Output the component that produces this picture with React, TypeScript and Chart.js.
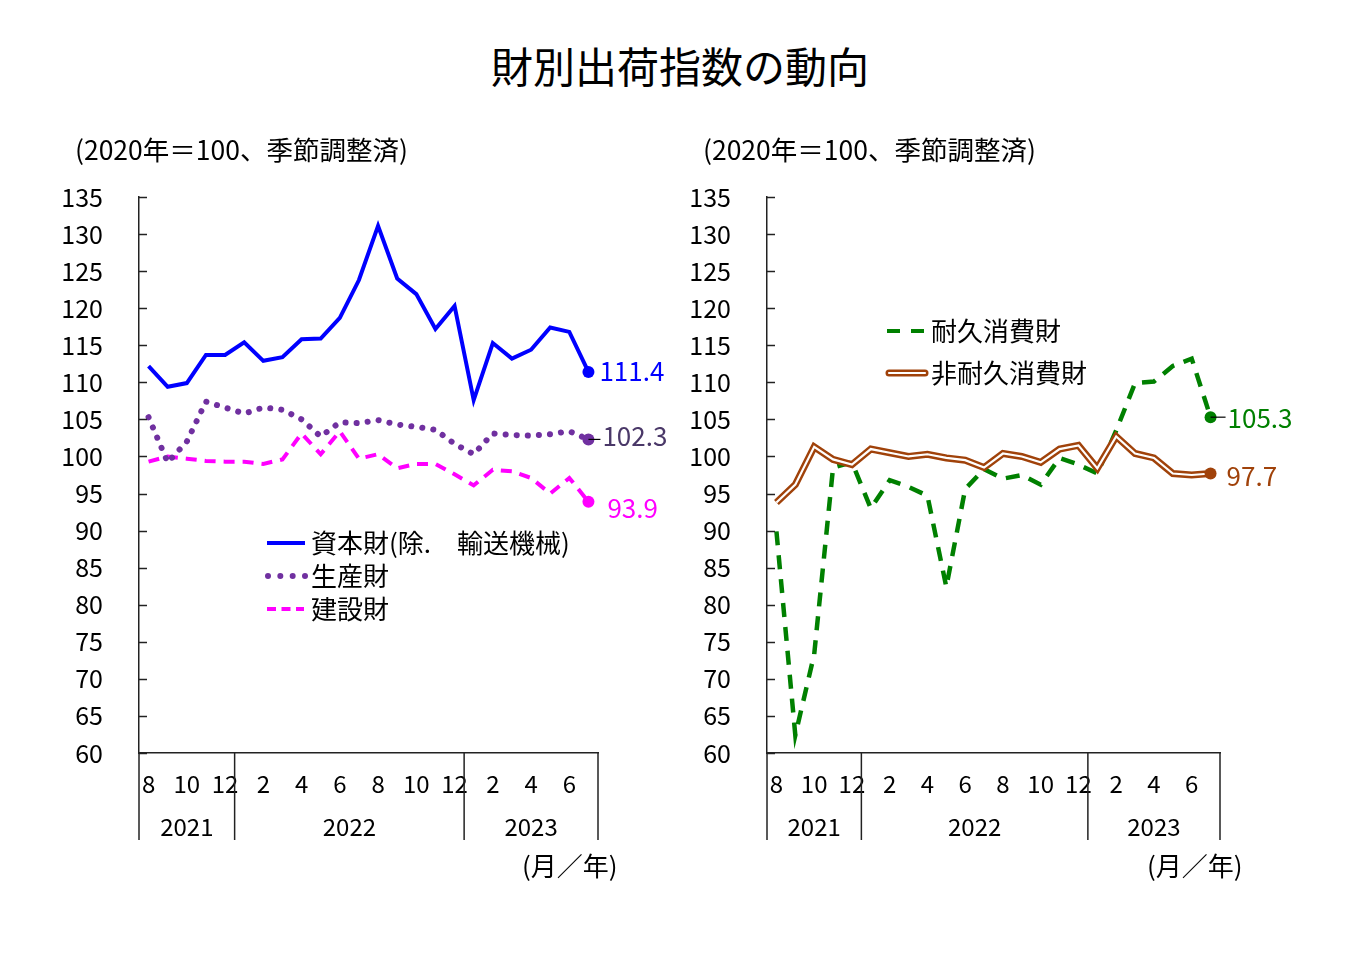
import React, { useEffect, useRef } from 'react';
import { Chart, registerables } from 'chart.js';

Chart.register(...registerables);

const FONT = '"Noto Sans CJK JP", "Noto Sans", sans-serif';
const AXIS = '#222222';

// ---- data ----
const categories = [
  '2021/8', '2021/9', '2021/10', '2021/11', '2021/12',
  '2022/1', '2022/2', '2022/3', '2022/4', '2022/5', '2022/6', '2022/7', '2022/8', '2022/9', '2022/10', '2022/11', '2022/12',
  '2023/1', '2023/2', '2023/3', '2023/4', '2023/5', '2023/6', '2023/7',
];
const monthTickLabels = [
  '8', '', '10', '', '12',
  '', '2', '', '4', '', '6', '', '8', '', '10', '', '12',
  '', '2', '', '4', '', '6', '',
];
const yearLabels = ['2021', '2022', '2023'];
const yearFirstIndex = [0, 5, 17];

const capitalGoods = [112.2, 109.4, 109.9, 113.7, 113.7, 115.4, 112.9, 113.4, 115.8, 115.9, 118.7, 123.8, 131.1, 124.0, 121.9, 117.2, 120.3, 107.6, 115.3, 113.2, 114.4, 117.4, 116.8, 111.4];
const producerGoods = [105.3, 99.2, 102.0, 107.4, 106.6, 105.8, 106.6, 106.3, 105.0, 102.7, 104.6, 104.5, 104.9, 104.3, 104.0, 103.6, 101.7, 100.3, 103.1, 102.9, 102.8, 103.0, 103.4, 102.3];
const constructionGoods = [99.3, 100.0, 99.7, 99.4, 99.3, 99.3, 99.0, 99.6, 103.1, 100.3, 103.4, 99.7, 100.3, 98.4, 99.0, 99.0, 97.6, 96.1, 98.2, 98.0, 97.1, 95.0, 97.1, 93.9];
const durableGoods = [89.9, 62.4, 73.3, 98.5, 99.2, 93.0, 96.8, 95.9, 94.7, 82.4, 95.6, 98.3, 97.0, 97.5, 96.2, 99.8, 98.9, 97.7, 103.5, 109.9, 110.1, 112.2, 113.2, 105.3];
const nondurableGoods = [93.8, 96.2, 101.3, 99.6, 98.9, 101.0, 100.5, 100.0, 100.3, 99.8, 99.5, 98.5, 100.4, 100.0, 99.2, 101.0, 101.5, 98.4, 102.7, 100.4, 99.8, 97.7, 97.5, 97.7];

const yMin = 60;
const yMax = 135;
const yStep = 5;

const TITLE = '財別出荷指数の動向';
const SUBTITLE = '(2020年＝100、季節調整済)';
const UNIT = '(月／年)';

const BLUE = '#0000ff';
const PURPLE = '#7030a0';
const PURPLE_LABEL = '#4a3868';
const MAGENTA = '#ff00ff';
const GREEN = '#008000';
const BROWN = '#a0420a';

const lastIdx = categories.length - 1;
const endRadius = (r: number) => (c: any) => (c.dataIndex === lastIdx ? r : 0);

function line(ctx: CanvasRenderingContext2D, x1: number, y1: number, x2: number, y2: number) {
  ctx.beginPath();
  ctx.moveTo(x1, y1);
  ctx.lineTo(x2, y2);
  ctx.stroke();
}

const panelPlugin = {
  id: 'panel',
  afterDraw(chart: any, _args: any, opts: any) {
    const { ctx, chartArea, scales } = chart;
    const xs = scales.x;
    const ys = scales.y;
    const ox = opts.offsetX;
    ctx.save();
    ctx.strokeStyle = AXIS;
    ctx.lineWidth = 1.5;
    // inward y ticks
    ys.ticks.forEach((_t: any, i: number) => {
      const py = Math.round(ys.getPixelForTick(i)) + 0.5;
      line(ctx, chartArea.left, py, chartArea.left + 8, py);
    });
    // year separators
    const step = xs.getPixelForValue(1) - xs.getPixelForValue(0);
    const bounds = yearFirstIndex.map((fi, i) => (i === 0 ? chartArea.left : xs.getPixelForValue(fi) - step / 2));
    bounds.push(chartArea.right);
    bounds.forEach((bx: number) => line(ctx, bx, chartArea.bottom, bx, chartArea.bottom + 87));
    ctx.fillStyle = '#000';
    ctx.font = `24px ${FONT}`;
    ctx.textAlign = 'center';
    ctx.textBaseline = 'middle';
    yearLabels.forEach((lab, i) => {
      ctx.fillText(lab, (bounds[i] + bounds[i + 1]) / 2, chartArea.bottom + 74);
    });
    // unit
    ctx.font = `26px ${FONT}`;
    ctx.textAlign = 'left';
    ctx.fillText(UNIT, opts.unit.x - ox, opts.unit.y);
    // subtitle
    ctx.font = `26.5px ${FONT}`;
    ctx.fillText(SUBTITLE, opts.subtitle.x - ox, opts.subtitle.y);
    // legend
    opts.legend.forEach((it: any) => {
      const x1 = it.x1 - ox;
      const x2 = it.x2 - ox;
      ctx.save();
      ctx.strokeStyle = it.color;
      ctx.fillStyle = it.color;
      if (it.type === 'solid') {
        ctx.lineWidth = 4;
        line(ctx, x1, it.y, x2, it.y);
      } else if (it.type === 'dots') {
        for (let k = 0; k < 4; k++) {
          ctx.beginPath();
          ctx.arc(x1 + k * ((x2 - x1) / 3), it.y, 3, 0, Math.PI * 2);
          ctx.fill();
        }
      } else if (it.type === 'dash') {
        ctx.lineWidth = 4;
        ctx.setLineDash(it.dash);
        line(ctx, x1, it.y, x2, it.y);
      } else if (it.type === 'double') {
        ctx.lineCap = 'round';
        ctx.lineWidth = 7;
        line(ctx, x1, it.y, x2, it.y);
        ctx.strokeStyle = '#fff';
        ctx.lineWidth = 2.2;
        line(ctx, x1, it.y, x2, it.y);
      }
      ctx.restore();
      ctx.fillStyle = '#000';
      ctx.font = `26px ${FONT}`;
      ctx.textAlign = 'left';
      ctx.textBaseline = 'middle';
      ctx.fillText(it.text, it.tx - ox, it.y);
    });
    // end value labels
    opts.values.forEach((v: any) => {
      const meta = chart.getDatasetMeta(v.dataset);
      const pt = meta.data[lastIdx];
      const val = chart.data.datasets[v.dataset].data[lastIdx];
      if (v.leader) {
        ctx.strokeStyle = '#000';
        ctx.lineWidth = 1.2;
        line(ctx, pt.x, pt.y, pt.x + v.dx - 2, pt.y);
      }
      ctx.fillStyle = v.color;
      ctx.font = `26px ${FONT}`;
      ctx.textAlign = 'left';
      ctx.textBaseline = 'middle';
      ctx.fillText(val.toFixed(1), pt.x + v.dx, pt.y + v.dy);
    });
    ctx.restore();
  },
};

function makeOptions(padLeft: number, padRight: number, panel: any): any {
  return {
    responsive: false,
    animation: false,
    events: [],
    layout: { padding: { left: padLeft, right: padRight, top: 197, bottom: 159 } },
    plugins: {
      legend: { display: false },
      tooltip: { enabled: false },
      title: { display: false },
      panel,
    },
    elements: { line: { tension: 0 } },
    scales: {
      x: {
        type: 'category',
        offset: true,
        grid: { display: false, drawTicks: false },
        border: { display: true, color: AXIS, width: 1.5 },
        afterFit: (s: any) => { s.height = 50; },
        ticks: {
          autoSkip: false,
          maxRotation: 0,
          minRotation: 0,
          padding: 16,
          color: '#000',
          font: { family: FONT, size: 24 },
          callback: (_v: any, i: number) => monthTickLabels[i],
        },
      },
      y: {
        min: yMin,
        max: yMax,
        grid: { display: false, drawTicks: false },
        border: { display: true, color: AXIS, width: 1.5 },
        afterFit: (s: any) => { s.width = 80; },
        ticks: {
          stepSize: yStep,
          padding: 36,
          color: '#000',
          font: { family: FONT, size: 25 },
        },
      },
    },
  };
}

function leftConfig(): any {
  return {
    type: 'line',
    data: {
      labels: categories,
      datasets: [
        {
          label: '資本財(除.　輸送機械)', data: capitalGoods, borderColor: BLUE, backgroundColor: BLUE,
          borderWidth: 4, pointRadius: endRadius(6), pointBorderWidth: 0, pointBackgroundColor: BLUE, order: 1,
        },
        {
          label: '生産財', data: producerGoods, borderColor: PURPLE, backgroundColor: PURPLE,
          borderWidth: 6, borderDash: [0.1, 11], borderCapStyle: 'round',
          pointRadius: endRadius(6), pointBorderWidth: 0, pointBackgroundColor: PURPLE, order: 2,
        },
        {
          label: '建設財', data: constructionGoods, borderColor: MAGENTA, backgroundColor: MAGENTA,
          borderWidth: 4, borderDash: [11, 8],
          pointRadius: endRadius(6), pointBorderWidth: 0, pointBackgroundColor: MAGENTA, order: 3,
        },
      ],
    },
    options: makeOptions(59, 82, {
      offsetX: 0,
      subtitle: { x: 75, y: 150 },
      unit: { x: 522, y: 866 },
      legend: [
        { type: 'solid', color: BLUE, x1: 267, x2: 305, y: 543, tx: 311, text: '資本財(除.　輸送機械)' },
        { type: 'dots', color: PURPLE, x1: 268, x2: 305, y: 576, tx: 311, text: '生産財' },
        { type: 'dash', color: MAGENTA, dash: [9, 5.5], x1: 267, x2: 304, y: 609, tx: 311, text: '建設財' },
      ],
      values: [
        { dataset: 0, dx: 11, dy: -1, color: BLUE, leader: false },
        { dataset: 1, dx: 14, dy: -3, color: PURPLE_LABEL, leader: true },
        { dataset: 2, dx: 19, dy: 6, color: MAGENTA, leader: false },
      ],
    }),
    plugins: [panelPlugin],
  };
}

function rightConfig(): any {
  return {
    type: 'line',
    data: {
      labels: categories,
      datasets: [
        {
          label: '耐久消費財', data: durableGoods, borderColor: GREEN, backgroundColor: GREEN,
          borderWidth: 4.5, borderDash: [14, 10],
          pointRadius: endRadius(6), pointBorderWidth: 0, pointBackgroundColor: GREEN, order: 3,
        },
        {
          label: '非耐久消費財', data: nondurableGoods, borderColor: BROWN, backgroundColor: BROWN,
          borderWidth: 7, pointRadius: 0, order: 2,
        },
        {
          label: '非耐久消費財', data: nondurableGoods, borderColor: '#ffffff', backgroundColor: BROWN,
          borderWidth: 2.2, pointRadius: endRadius(6), pointBorderWidth: 0, pointBackgroundColor: BROWN, order: 1,
        },
      ],
    },
    options: makeOptions(7, 140, {
      offsetX: 680,
      subtitle: { x: 703, y: 150 },
      unit: { x: 1147, y: 866 },
      legend: [
        { type: 'dash', color: GREEN, dash: [13, 11], x1: 887, x2: 925, y: 331, tx: 931, text: '耐久消費財' },
        { type: 'double', color: BROWN, x1: 889, x2: 925, y: 373, tx: 931, text: '非耐久消費財' },
      ],
      values: [
        { dataset: 0, dx: 17, dy: 1, color: GREEN, leader: true },
        { dataset: 2, dx: 16, dy: 3, color: BROWN, leader: false },
      ],
    }),
    plugins: [panelPlugin],
  };
}

export default function App() {
  const leftRef = useRef<HTMLCanvasElement>(null);
  const rightRef = useRef<HTMLCanvasElement>(null);

  useEffect(() => {
    const c1 = new Chart(leftRef.current as HTMLCanvasElement, leftConfig());
    const c2 = new Chart(rightRef.current as HTMLCanvasElement, rightConfig());
    return () => {
      c1.destroy();
      c2.destroy();
    };
  }, []);

  return (
    <div style={{ position: 'absolute', left: 0, top: 0, width: 1360, height: 962, background: '#fff', overflow: 'hidden' }}>
      <div
        style={{
          position: 'absolute', left: 0, top: 44, width: 1360, textAlign: 'center',
          fontFamily: FONT, fontSize: 42, lineHeight: '42px', color: '#000',
        }}
      >
        {TITLE}
      </div>
      <canvas ref={leftRef} width={680} height={962} style={{ position: 'absolute', left: 0, top: 0, width: 680, height: 962 }} />
      <canvas ref={rightRef} width={680} height={962} style={{ position: 'absolute', left: 680, top: 0, width: 680, height: 962 }} />
    </div>
  );
}
